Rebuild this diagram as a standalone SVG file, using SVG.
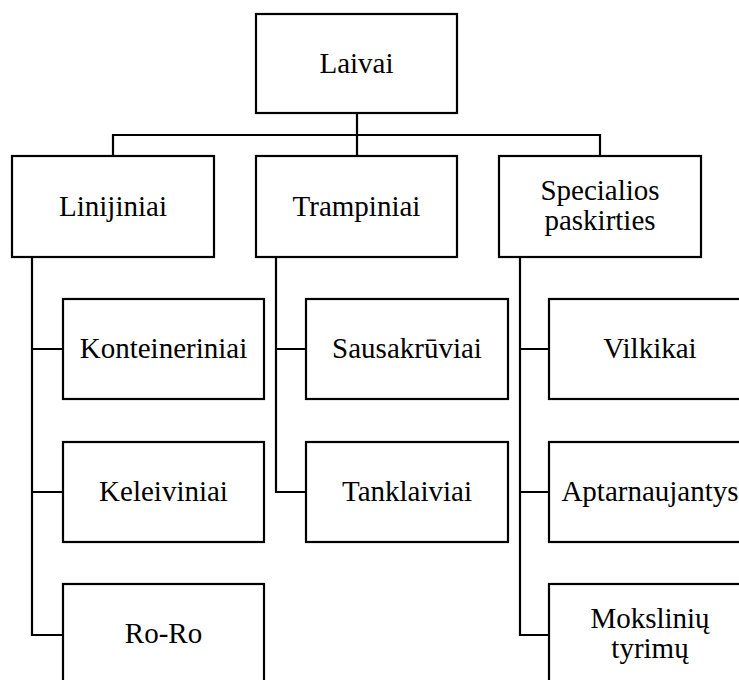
<svg xmlns="http://www.w3.org/2000/svg" width="739" height="680" viewBox="0 0 739 680">
<style>
.box{fill:#fff;stroke:#000;stroke-width:2.2}
.ln{fill:none;stroke:#000;stroke-width:2.2}
text{font-size:29px;fill:#000;text-anchor:middle}
</style>
<rect width="739" height="680" fill="#fff"/>
<g id="connectors">
<path class="ln" d="M357 113V156M113 156V135H600V156"/>
<path class="ln" d="M32 257V635H63M32 349H63M32 492H63"/>
<path class="ln" d="M276 257V492H306M276 349H306"/>
<path class="ln" d="M520 257V635H549M520 349H549M520 492H549"/>
</g>
<g font-family="'Liberation Serif', 'Times New Roman', 'DejaVu Serif', serif">
<g id="laivai"><rect class="box" x="256" y="14" width="201" height="99"/><text x="356.5" y="73">Laivai</text></g>
<g id="linijiniai"><rect class="box" x="12" y="156" width="202" height="101"/><text x="113" y="215.5">Linijiniai</text></g>
<g id="trampiniai"><rect class="box" x="256" y="156" width="201" height="101"/><text x="356.5" y="215.5">Trampiniai</text></g>
<g id="specialios"><rect class="box" x="499" y="156" width="202" height="101"/><text x="600" y="200">Specialios</text><text x="600" y="230">paskirties</text></g>
<g id="konteineriniai"><rect class="box" x="63" y="299" width="201" height="100"/><text x="163.5" y="358">Konteineriniai</text></g>
<g id="keleiviniai"><rect class="box" x="63" y="442" width="201" height="100"/><text x="163.5" y="501">Keleiviniai</text></g>
<g id="roro"><rect class="box" x="63" y="584" width="201" height="100"/><text x="163.5" y="643">Ro-Ro</text></g>
<g id="sausakruviai"><rect class="box" x="306" y="299" width="202" height="100"/><text x="407" y="358">Sausakrūviai</text></g>
<g id="tanklaiviai"><rect class="box" x="306" y="442" width="202" height="100"/><text x="407" y="501">Tanklaiviai</text></g>
<g id="vilkikai"><rect class="box" x="549" y="299" width="202" height="100"/><text x="650" y="358">Vilkikai</text></g>
<g id="aptarnaujantys"><rect class="box" x="549" y="442" width="202" height="100"/><text x="650" y="501">Aptarnaujantys</text></g>
<g id="moksliniu"><rect class="box" x="549" y="584" width="202" height="100"/><text x="650" y="628">Mokslinių</text><text x="650" y="658">tyrimų</text></g>
</g>
</svg>
